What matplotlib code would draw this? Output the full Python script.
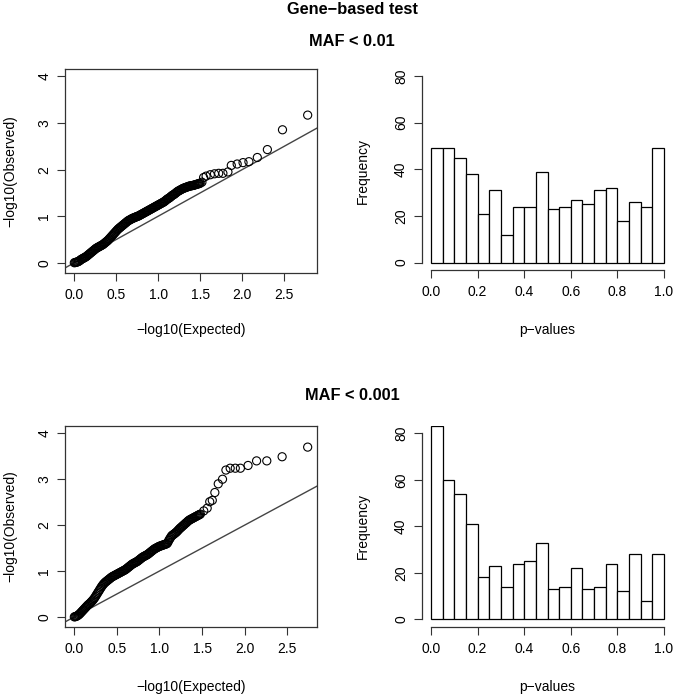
import matplotlib
matplotlib.use("Agg")
import matplotlib.pyplot as plt

plt.rcParams["font.family"] = ["Liberation Sans", "DejaVu Sans"]

W, H = 674, 695

# ── data: expected -log10(p) for the dense part of both QQ plots ──────────────
dense_expected = [
    0.00, 0.01, 0.02, 0.03, 0.04, 0.05, 0.06, 0.07, 0.08, 0.09,
    0.10, 0.11, 0.12, 0.13, 0.14, 0.15, 0.16, 0.17, 0.18, 0.19,
    0.20, 0.21, 0.22, 0.23, 0.24, 0.25, 0.26, 0.27, 0.28, 0.29,
    0.30, 0.31, 0.32, 0.33, 0.34, 0.35, 0.36, 0.37, 0.38, 0.39,
    0.40, 0.41, 0.42, 0.43, 0.44, 0.45, 0.46, 0.47, 0.48, 0.49,
    0.50, 0.51, 0.52, 0.53, 0.54, 0.55, 0.56, 0.57, 0.58, 0.59,
    0.60, 0.61, 0.62, 0.63, 0.64, 0.65, 0.66, 0.67, 0.68, 0.69,
    0.70, 0.71, 0.72, 0.73, 0.74, 0.75, 0.76, 0.77, 0.78, 0.79,
    0.80, 0.81, 0.82, 0.83, 0.84, 0.85, 0.86, 0.87, 0.88, 0.89,
    0.90, 0.91, 0.92, 0.93, 0.94, 0.95, 0.96, 0.97, 0.98, 0.99,
    1.00, 1.01, 1.02, 1.03, 1.04, 1.05, 1.06, 1.07, 1.08, 1.09,
    1.10, 1.11, 1.12, 1.13, 1.14, 1.15, 1.16, 1.17, 1.18, 1.19,
    1.20, 1.21, 1.22, 1.23, 1.24, 1.25, 1.26, 1.27, 1.28, 1.29,
    1.30, 1.31, 1.32, 1.33, 1.34, 1.35, 1.36, 1.37, 1.38, 1.39,
    1.40, 1.41, 1.42, 1.43, 1.44, 1.45, 1.46, 1.47, 1.48, 1.49,
    1.50]

# ── data: MAF < 0.01 ──────────────────────────────────────────────────────────
qq1_dense_obs = [
    0.00, 0.005, 0.01, 0.015, 0.02, 0.03, 0.04, 0.055, 0.07, 0.08,
    0.09, 0.10, 0.11, 0.12, 0.13, 0.145, 0.16, 0.175, 0.19, 0.205,
    0.22, 0.235, 0.25, 0.265, 0.28, 0.295, 0.31, 0.32, 0.33, 0.34,
    0.35, 0.36, 0.37, 0.38, 0.39, 0.405, 0.42, 0.435, 0.45, 0.465,
    0.48, 0.50, 0.52, 0.54, 0.56, 0.58, 0.60, 0.62, 0.64, 0.66,
    0.68, 0.70, 0.72, 0.735, 0.75, 0.765, 0.78, 0.795, 0.81, 0.825,
    0.84, 0.855, 0.87, 0.885, 0.90, 0.91, 0.92, 0.93, 0.94, 0.95,
    0.96, 0.965, 0.97, 0.98, 0.99, 0.995, 1.00, 1.01, 1.02, 1.03,
    1.04, 1.05, 1.06, 1.07, 1.08, 1.09, 1.10, 1.11, 1.12, 1.13,
    1.14, 1.15, 1.16, 1.17, 1.18, 1.19, 1.20, 1.21, 1.22, 1.23,
    1.24, 1.25, 1.26, 1.27, 1.28, 1.29, 1.30, 1.31, 1.325, 1.34,
    1.355, 1.37, 1.38, 1.39, 1.405, 1.42, 1.435, 1.45, 1.46, 1.47,
    1.485, 1.50, 1.515, 1.53, 1.54, 1.55, 1.56, 1.57, 1.58, 1.59,
    1.60, 1.605, 1.61, 1.62, 1.625, 1.63, 1.64, 1.645, 1.65, 1.65,
    1.655, 1.66, 1.66, 1.67, 1.675, 1.68, 1.685, 1.69, 1.70, 1.70,
    1.71]
qq1_tail_exp = [1.52, 1.54, 1.57, 1.62, 1.67, 1.72, 1.77, 1.83, 1.87, 1.94,
                2.01, 2.08, 2.18, 2.30, 2.48, 2.78]
qq1_tail_obs = [1.73, 1.83, 1.86, 1.89, 1.91, 1.92, 1.92, 1.95, 2.09, 2.12,
                2.15, 2.17, 2.26, 2.43, 2.855, 3.17]
hist1_counts = [49, 49, 45, 38, 21, 31, 12, 24, 24, 39,
                23, 24, 27, 25, 31, 32, 18, 26, 24, 49]

# ── data: MAF < 0.001 ─────────────────────────────────────────────────────────
qq2_dense_obs = [
    0.00, 0.005, 0.01, 0.02, 0.03, 0.045, 0.06, 0.08, 0.10, 0.12,
    0.14, 0.16, 0.18, 0.20, 0.22, 0.24, 0.26, 0.275, 0.29, 0.31,
    0.33, 0.35, 0.37, 0.395, 0.42, 0.45, 0.48, 0.51, 0.54, 0.57,
    0.60, 0.63, 0.66, 0.685, 0.71, 0.73, 0.75, 0.765, 0.78, 0.795,
    0.81, 0.825, 0.84, 0.855, 0.87, 0.88, 0.89, 0.90, 0.91, 0.92,
    0.93, 0.94, 0.95, 0.96, 0.97, 0.98, 0.99, 1.00, 1.01, 1.02,
    1.03, 1.045, 1.06, 1.075, 1.09, 1.105, 1.12, 1.135, 1.15, 1.16,
    1.17, 1.18, 1.19, 1.20, 1.21, 1.225, 1.24, 1.255, 1.27, 1.285,
    1.30, 1.31, 1.32, 1.33, 1.34, 1.35, 1.36, 1.375, 1.39, 1.405,
    1.42, 1.435, 1.45, 1.465, 1.48, 1.49, 1.50, 1.51, 1.52, 1.53,
    1.54, 1.545, 1.55, 1.56, 1.565, 1.57, 1.58, 1.585, 1.59, 1.60,
    1.63, 1.67, 1.70, 1.73, 1.76, 1.78, 1.79, 1.805, 1.82, 1.835,
    1.85, 1.87, 1.89, 1.91, 1.93, 1.945, 1.96, 1.98, 1.995, 2.01,
    2.03, 2.045, 2.06, 2.08, 2.095, 2.11, 2.12, 2.13, 2.14, 2.15,
    2.16, 2.17, 2.18, 2.19, 2.20, 2.21, 2.22, 2.23, 2.24]
qq2_tail_exp = [1.52, 1.56, 1.59, 1.62, 1.65, 1.69, 1.74, 1.78, 1.83, 1.89,
                1.95, 2.04, 2.14, 2.26, 2.44, 2.74]
qq2_tail_obs = [2.31, 2.37, 2.51, 2.54, 2.71, 2.90, 3.00, 3.20, 3.24, 3.24,
                3.24, 3.30, 3.40, 3.40, 3.49, 3.70]
hist2_counts = [83, 60, 54, 41, 18, 23, 14, 24, 25, 33,
                13, 14, 22, 13, 14, 24, 12, 28, 8, 28]

bin_edges = [0.00, 0.05, 0.10, 0.15, 0.20, 0.25, 0.30, 0.35, 0.40, 0.45, 0.50,
             0.55, 0.60, 0.65, 0.70, 0.75, 0.80, 0.85, 0.90, 0.95, 1.00]

qq_xticks = [0.0, 0.5, 1.0, 1.5, 2.0, 2.5]
qq_yticks = [0, 1, 2, 3, 4]
hist_xticks = [0.0, 0.2, 0.4, 0.6, 0.8, 1.0]
hist_yticks = [0, 20, 40, 60, 80]

titles = ["MAF < 0.01", "MAF < 0.001"]

FS = 10
EDGE = "#333333"


def px_axes(fig, left, top, right, bottom):
    return fig.add_axes([left / W, 1 - bottom / H, (right - left) / W, (bottom - top) / H])


def style_ticks(ax):
    ax.tick_params(direction="out", length=5.8, width=0.8, color=EDGE,
                   labelsize=FS, pad=5)
    ax.tick_params(axis="y", pad=4)


def qq_panel(ax, expected, observed, xmax):
    ax.scatter(expected, observed, s=34, facecolors="none", edgecolors="black",
               linewidths=0.8, zorder=3)
    ax.axline((0, 0), slope=1, color="#444444", lw=1.0, zorder=2)
    ax.set_xlim(-0.04 * xmax, xmax * 1.04)
    ax.set_ylim(-0.22, 4.16)
    ax.set_xticks(qq_xticks)
    ax.set_xticklabels([f"{t:.1f}" for t in qq_xticks])
    ax.set_yticks(qq_yticks)
    ax.set_yticklabels([str(t) for t in qq_yticks], rotation=90, va="center")
    for sp in ax.spines.values():
        sp.set_color(EDGE)
        sp.set_linewidth(0.9)
    style_ticks(ax)


def hist_panel(ax, counts):
    ax.bar(bin_edges[:-1], counts, width=0.05, align="edge", color="white",
           edgecolor="black", linewidth=0.9)
    ax.set_xlim(-0.04, 1.04)
    ax.set_ylim(-3.2, 83.2)
    ax.set_xticks(hist_xticks)
    ax.set_xticklabels([f"{t:.1f}" for t in hist_xticks])
    ax.set_yticks(hist_yticks)
    ax.set_yticklabels([str(t) for t in hist_yticks], rotation=90, va="center")
    ax.spines["top"].set_visible(False)
    ax.spines["right"].set_visible(False)
    ax.spines["left"].set_bounds(0, 80)
    ax.spines["bottom"].set_bounds(0, 1)
    for sp in ("left", "bottom"):
        ax.spines[sp].set_color(EDGE)
        ax.spines[sp].set_linewidth(0.9)
    style_ticks(ax)


fig = plt.figure(figsize=(W / 100, H / 100), dpi=100)
fig.patch.set_facecolor("white")

# ── top row ──────────────────────────────────────────────────────────────────
ax1 = px_axes(fig, 65, 69, 317, 273)
qq_panel(ax1, dense_expected + qq1_tail_exp, qq1_dense_obs + qq1_tail_obs,
         qq1_tail_exp[-1])
ax2 = px_axes(fig, 421.7, 68.5, 673.3, 270)
hist_panel(ax2, hist1_counts)

# ── bottom row ───────────────────────────────────────────────────────────────
ax3 = px_axes(fig, 65, 426, 317, 627)
qq_panel(ax3, dense_expected[:len(qq2_dense_obs)] + qq2_tail_exp,
         qq2_dense_obs + qq2_tail_obs, qq2_tail_exp[-1])
ax4 = px_axes(fig, 421.7, 426, 673.3, 626.7)
hist_panel(ax4, hist2_counts)

# ── labels ───────────────────────────────────────────────────────────────────
def ftext(x, y, s, **kw):
    fig.text(x / W, 1 - y / H, s, ha="center", va="center", **kw)

ftext(352, 9, "Gene\u2212based test", fontsize=11.8, fontweight="bold")
ftext(352, 42, titles[0], fontsize=11.8, fontweight="bold")
ftext(352, 396, titles[1], fontsize=11.8, fontweight="bold")

for ytop, ybot in ((171, 330), (526, 687)):
    ftext(191, ybot, "\u2212log10(Expected)", fontsize=FS)
    ftext(547, ybot, "p\u2212values", fontsize=FS)
    ftext(10, ytop, "\u2212log10(Observed)", fontsize=FS, rotation=90)
    ftext(363, ytop, "Frequency", fontsize=FS, rotation=90)

fig.savefig("out.png", dpi=100, facecolor="white")
